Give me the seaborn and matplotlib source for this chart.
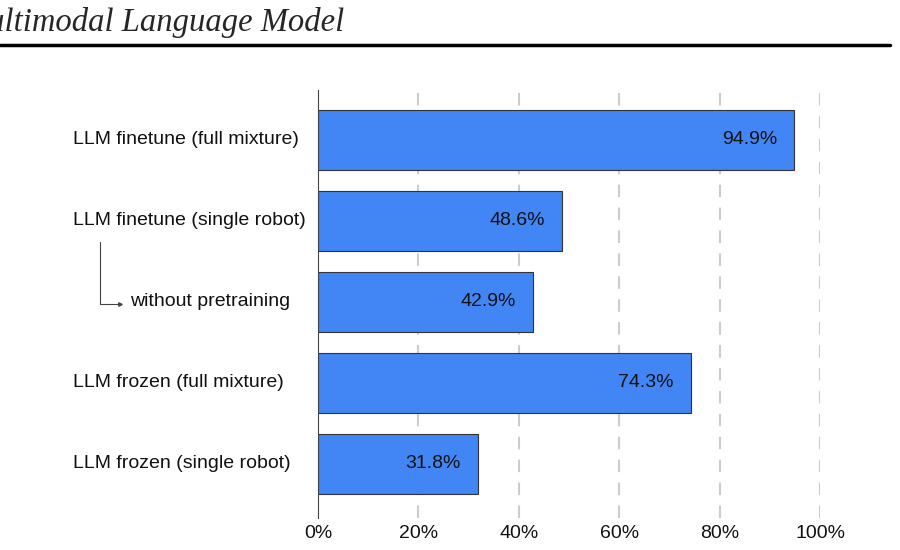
import numpy as np
import pandas as pd
import seaborn as sns
import matplotlib.pyplot as plt
from matplotlib import transforms

sns.set_style("white")
plt.rcParams['font.family'] = ['Liberation Sans', 'DejaVu Sans']

# Data
labels = ["LLM finetune (full mixture)", "LLM finetune (single robot)",
          "without pretraining", "LLM frozen (full mixture)",
          "LLM frozen (single robot)"]
values = [94.9, 48.6, 42.9, 74.3, 31.8]
xticks = [0, 20, 40, 60, 80, 100]

df = pd.DataFrame({"label": labels, "value": values})

fig = plt.figure(figsize=(9, 5.5), dpi=100)
ax = fig.add_axes([318 / 900, 1 - 518 / 550, (820 - 318) / 900, (518 - 90) / 550])

sns.barplot(data=df, x="value", y="label", orient="h", color="#4285F4",
            saturation=1, edgecolor="#333333", linewidth=0.8, width=0.74, ax=ax)

ax.set_xlim(0, 100)
ax.set_ylim(4.667, -0.617)
ax.set_xticks(xticks)
ax.set_xticklabels([f"{t}%" for t in xticks], fontsize=14, color="#111111")
ax.tick_params(axis="x", length=0, pad=5)
ax.set_yticks([])
ax.set_xlabel("")
ax.set_ylabel("")
for s in ["top", "right", "bottom"]:
    ax.spines[s].set_visible(False)
ax.spines["left"].set_color("#444444")
ax.spines["left"].set_linewidth(0.8)

for t in xticks[1:]:
    ax.axvline(t, color="#cccccc", linewidth=1.5, linestyle=(0, (6, 5)), zorder=0)
ax.set_axisbelow(True)

# value labels inside bars
for i, v in enumerate(values):
    ax.text(v - 3.4, i, f"{v}%", ha="right", va="center", fontsize=14, color="#111111")

# category labels on the left
trans = transforms.blended_transform_factory(fig.transFigure, ax.transData)
for i, lab in enumerate(labels):
    xpos = 130 / 900 if lab == "without pretraining" else 73 / 900
    ax.text(xpos, i, lab, ha="left", va="center", fontsize=14, color="#111111",
            transform=trans, clip_on=False)

# bracket arrow to the indented label
fig.add_artist(plt.Line2D([100 / 900, 100 / 900], [1 - 242 / 550, 1 - 304 / 550],
                          color="#444444", linewidth=0.8))
fig.add_artist(plt.Line2D([100 / 900, 120 / 900], [1 - 304 / 550, 1 - 304 / 550],
                          color="#444444", linewidth=0.8))
fig.add_artist(plt.Line2D([120 / 900], [1 - 304 / 550], marker=">", markersize=2.5,
                          color="#444444"))

# cropped title and rule
fig.text(345 / 900, 1 - 31 / 550, "Multimodal Language Model", ha="right",
         va="baseline", fontsize=23.5, style="italic", family="Liberation Serif")
fig.add_artist(plt.Line2D([0, 890 / 900], [1 - 45 / 550, 1 - 45 / 550],
                          color="black", linewidth=2.5))

fig.savefig("out.png", dpi=100)
